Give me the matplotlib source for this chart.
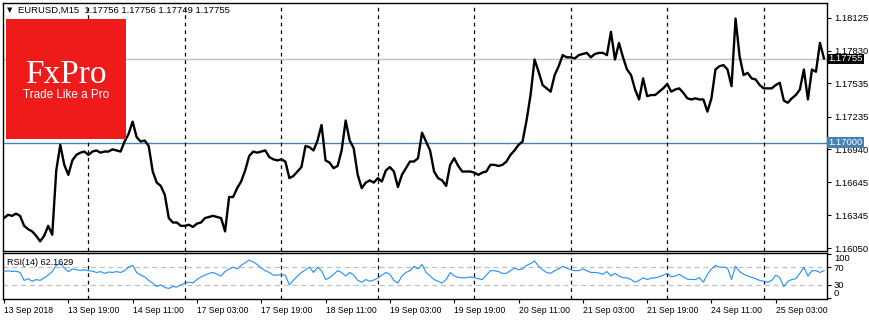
import matplotlib.pyplot as plt
from matplotlib.patches import Rectangle
import pandas as pd

# hourly closes of EURUSD (13 Sep 03:00 - 25 Sep 15:00)
price = [
    1.1632, 1.1635, 1.1634, 1.1636, 1.1634, 1.1625, 1.1622, 1.1620, 1.1616, 1.1611,
    1.1616, 1.1625, 1.1617, 1.1675, 1.1698, 1.1680, 1.1671, 1.1684, 1.1689, 1.1691,
    1.1692, 1.1689, 1.1692, 1.1693, 1.1691, 1.1692, 1.1692, 1.1694, 1.1693, 1.1692,
    1.1701, 1.1708, 1.1719, 1.1705, 1.1701, 1.1702, 1.1697, 1.1674, 1.1664, 1.1661,
    1.1653, 1.1632, 1.1628, 1.1628, 1.1625, 1.1625, 1.1626, 1.1624, 1.1627, 1.1628,
    1.1632, 1.1633, 1.1634, 1.1633, 1.1632, 1.1620, 1.1651, 1.1651, 1.1659, 1.1665,
    1.1675, 1.1688, 1.1692, 1.1691, 1.1692, 1.1693, 1.1687, 1.1685, 1.1684, 1.1685,
    1.1683, 1.1668, 1.1670, 1.1674, 1.1678, 1.1697, 1.1696, 1.1693, 1.1702, 1.1716,
    1.1684, 1.1682, 1.1677, 1.1679, 1.1693, 1.1720, 1.1702, 1.1695, 1.1671, 1.1659,
    1.1664, 1.1666, 1.1664, 1.1668, 1.1665, 1.1675, 1.1678, 1.1674, 1.1660, 1.1671,
    1.1677, 1.1683, 1.1683, 1.1686, 1.1709, 1.1701, 1.1693, 1.1674, 1.1668, 1.1666,
    1.1661, 1.1680, 1.1686, 1.1679, 1.1674, 1.1674, 1.1674, 1.1673, 1.1671, 1.1673,
    1.1674, 1.1680, 1.1680, 1.1679, 1.1680, 1.1683, 1.1689, 1.1693, 1.1698, 1.1701,
    1.1720, 1.1743, 1.1775, 1.1764, 1.1752, 1.1749, 1.1746, 1.1761, 1.1769, 1.1779,
    1.1777, 1.1777, 1.1776, 1.1779, 1.1780, 1.1781, 1.1777, 1.1780, 1.1781, 1.1781,
    1.1779, 1.1800, 1.1775, 1.1790, 1.1777, 1.1766, 1.1761, 1.1748, 1.1739, 1.1758,
    1.1742, 1.1743, 1.1743, 1.1746, 1.1749, 1.1753, 1.1746, 1.1748, 1.1749, 1.1745,
    1.1740, 1.1739, 1.1740, 1.1739, 1.1739, 1.1728, 1.1740, 1.1766, 1.1769, 1.1770,
    1.1766, 1.1751, 1.1812, 1.1778, 1.1761, 1.1763, 1.1758, 1.1757, 1.1752, 1.1749,
    1.1749, 1.1749, 1.1752, 1.1754, 1.1738, 1.1736, 1.1740, 1.1743, 1.1748, 1.1766,
    1.1739, 1.1766, 1.1764, 1.1790, 1.1776,
]

rsi = [
    60, 62, 60, 61, 58, 40, 44, 38, 42, 40,
    46, 52, 60, 74, 78, 68, 60, 66, 64, 63,
    64, 62, 61, 58, 60, 56, 59, 58, 60, 58,
    62, 70, 74, 58, 52, 48, 40, 34, 26, 30,
    24, 22, 26, 25, 30, 34, 36, 34, 42, 48,
    52, 56, 58, 54, 50, 60, 66, 70, 66, 74,
    80, 86, 82, 76, 68, 62, 58, 52, 52, 53,
    52, 30, 40, 50, 58, 64, 70, 58, 70, 62,
    42, 46, 54, 62, 58, 50, 58, 52, 40, 36,
    42, 38, 41, 45, 52, 58, 54, 40, 34, 50,
    58, 62, 72, 66, 76, 58, 50, 42, 38, 34,
    42, 58, 50, 47, 46, 46, 48, 46, 44, 42,
    52, 62, 62, 60, 56, 56, 62, 68, 64, 66,
    74, 78, 84, 72, 64, 58, 56, 62, 66, 72,
    68, 64, 62, 62, 66, 62, 58, 58, 57, 54,
    60, 50, 56, 50, 46, 46, 42, 36, 40, 46,
    42, 45, 46, 48, 52, 56, 48, 50, 54, 48,
    43, 42, 42, 46, 36, 54, 66, 74, 70, 70,
    68, 42, 72, 60, 54, 50, 47, 44, 40, 38,
    36, 40, 52, 46, 26, 38, 42, 44, 56, 70,
    50, 62, 62, 58, 62,
]

price_ticks = [1.16050, 1.16345, 1.16645, 1.16940, 1.17235, 1.17535, 1.17830, 1.18125]
last_price = 1.17755
level_price = 1.17000
title = "EURUSD,M15  1.17756 1.17756 1.17749 1.17755"
rsi_title = "RSI(14) 62.1629"

# trading hours, weekends skipped like on the terminal
hours = pd.date_range("2018-09-13 03:00", "2018-09-25 15:00", freq="h")
hours = hours[hours.dayofweek < 5]
idx = list(range(len(hours)))

fig = plt.figure(figsize=(8.7, 3.2), dpi=100)
ax = fig.add_axes([3 / 870, 69 / 320, 824 / 870, 248 / 320])
ax2 = fig.add_axes([3 / 870, 21 / 320, 824 / 870, 46 / 320])

lab_font = "Liberation Sans"

ax.plot(idx, price, color="black", lw=1.7, zorder=3)
ax.axhline(last_price, color="#c0c0c0", lw=1, zorder=1)
ax.axhline(level_price, color="#4682b4", lw=1, zorder=1)
ax.set_ylim(1.16023, 1.18260)

day_starts = [i for i, t in enumerate(hours) if t.hour == 0]
for a in (ax, ax2):
    for d in day_starts:
        a.axvline(d, color="black", lw=0.9, ls=(0, (3, 3)), zorder=1)
    for s in a.spines.values():
        s.set_linewidth(1)
    a.set_xlim(-0.25, len(idx) - 0.25)

ax.yaxis.tick_right()
ax.set_yticks(price_ticks)
ax.set_yticklabels([f"{p:.5f}" for p in price_ticks], fontsize=6.8, family=lab_font)
ax.tick_params(axis="y", length=3, pad=2)
ax.set_xticks([])

# price tags on the right scale
for val, col in ((last_price, "black"), (level_price, "#4682b4")):
    ax.annotate(f"{val:.5f}", xy=(1, val), xycoords=("axes fraction", "data"),
                xytext=(1, 0), textcoords="offset points", ha="left", va="center",
                fontsize=6.8, family=lab_font, color="white", annotation_clip=False,
                zorder=5, bbox=dict(boxstyle="square,pad=0.1", fc=col, ec="none"))

ax.text(0.005, 0.972, "\u25bc", transform=ax.transAxes, fontsize=5, va="center", ha="left")
ax.text(0.0185, 0.972, title, transform=ax.transAxes, fontsize=6.8, family=lab_font,
        va="center", ha="left")

# RSI panel
ax2.plot(idx, rsi, color="#1e90ff", lw=0.8, zorder=3)
for lvl in (30, 70):
    ax2.axhline(lvl, color="#c0c0c0", lw=0.9, ls=(0, (4, 3)), zorder=1)
ax2.set_ylim(-2, 102)
ax2.yaxis.tick_right()
ax2.set_yticks([0, 30, 70, 100])
ax2.set_yticklabels(["0", "30", "70", "100"], fontsize=6.8, family=lab_font)
ylabs = ax2.get_yticklabels()
ylabs[0].set_va("bottom")
ylabs[3].set_va("top")
ax2.tick_params(axis="y", length=3, pad=2)
ax2.text(0.005, 0.80, rsi_title, transform=ax2.transAxes, fontsize=6.5, family=lab_font,
         va="center", ha="left")

tick_pos = idx[::16]
tick_lab = []
for i in tick_pos:
    t = hours[i]
    tick_lab.append(t.strftime("%d %b %Y") if i == 0 else t.strftime("%d %b %H:%M"))
ax2.set_xticks(tick_pos)
ax2.set_xticklabels(tick_lab, fontsize=6.2, family=lab_font, ha="left")
ax2.tick_params(axis="x", length=3, pad=2)

# FxPro logo box
fig.patches.append(Rectangle((6 / 870, 181 / 320), 120 / 870, 120 / 320,
                             transform=fig.transFigure, fc="#ef1b1b", ec="none", zorder=5))
fig.text(66 / 870, 245 / 320, "FxPro", color="white", fontsize=24,
         family="Liberation Serif", ha="center", va="center", zorder=6)
fig.text(66 / 870, 225 / 320, "Trade Like a Pro", color="white", fontsize=8.5,
         family=lab_font, ha="center", va="center", zorder=6)

fig.savefig("out.png", dpi=100)
